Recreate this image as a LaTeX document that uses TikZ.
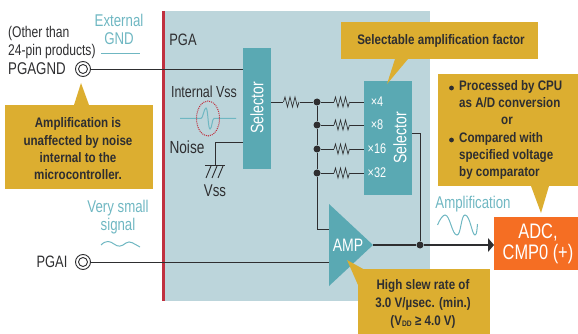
\documentclass[tikz,border=0pt]{standalone}
\usepackage{fontspec}
\setmainfont[FakeStretch=0.78]{Liberation Sans}
\newfontfamily\boldn[FakeStretch=0.84]{Liberation Sans Bold}
\definecolor{panel}{HTML}{BCD5DB}
\definecolor{teal}{HTML}{5AA9B3}
\definecolor{lteal}{HTML}{6FB7C2}
\definecolor{gold}{HTML}{DCAE30}
\definecolor{ored}{HTML}{F56E23}
\definecolor{rred}{HTML}{C0303F}
\definecolor{ink}{HTML}{2E2E30}
\tikzset{
 wire/.style={draw=ink,line width=0.9pt},
 lab/.style={text=ink,font=\fontsize{16}{18}\selectfont,inner sep=0pt,align=center},
 tlab/.style={text=lteal,font=\fontsize{17}{18}\selectfont,inner sep=0pt,align=center},
 call/.style={text=ink,font=\boldn\fontsize{13.8}{17.3}\selectfont,inner sep=0pt,align=center},
 wlab/.style={text=white,font=\fontsize{18}{20}\selectfont,inner sep=0pt},
 fac/.style={text=white,font=\fontsize{14}{16}\selectfont,inner sep=0pt},
 dot/.style={circle,fill=ink,inner sep=0pt,minimum size=7pt},
 pin/.style={circle,draw=ink,fill=white,line width=0.9pt,inner sep=0pt,minimum size=15pt},
 pinin/.style={circle,draw=ink,fill=white,line width=0.9pt,inner sep=0pt,minimum size=9pt},
 res/.style={draw=ink,line width=0.7pt,line join=miter},
}
\newcommand{\resistor}[2]{\draw[res] (#1,#2) ++(-8,0) -- ++(1.5,-5) -- ++(2.5,10) -- ++(2.5,-10) -- ++(2.5,10) -- ++(2.5,-10) -- ++(2.5,10) -- ++(1.5,-5);}
\begin{document}
\begin{tikzpicture}[x=1pt,y=-1pt]
\useasboundingbox (0,0) rectangle (578,334);
\fill[panel] (165,11) rectangle (430,301);
\draw[rred,line width=2.6pt] (163.5,11) -- (163.5,301);
% wires
\node[pin] (gndo) at (83,69) {};
\node[pinin] (gndi) at (83,69) {};
\node[pin] (aio) at (83,262) {};
\node[pinin] (aii) at (83,262) {};
\fill[teal] (243,48) rectangle (271,169);
\node[wlab,rotate=90] (sel1) at (257,108) {Selector};
\coordinate (selL1) at (243,69);
\coordinate (selL2) at (243,142);
\coordinate (selR) at (271,102);
\draw[wire] (gndo) -- (selL1);
\coordinate (gcor) at (215,142);
\coordinate (gbot) at (215,165);
\draw[wire] (selL2) -- (gcor) -- (gbot);
\draw[wire] (205,165) -- (225,165);
\draw[wire] (206,178) -- (211,166) (212,178) -- (217,166) (218,178) -- (223,166);
\node[lab,font=\fontsize{17}{18}\selectfont] (vss) at (215,191) {Vss};
\node[lab,font=\fontsize{17.5}{18}\selectfont] (noise) at (187,147) {Noise};
\node[lab] (ivss) at (204,92) {Internal Vss};
\draw[lteal,line width=1pt] (180,118.5) -- (201,118.5) .. controls (203,118.5) and (204,108) .. (206,108) .. controls (208,108) and (208,129) .. (210,129) .. controls (212,129) and (212,118.5) .. (214,118.5) -- (236,118.5);
\draw[rred,densely dotted,line width=1pt] (208,118.5) ellipse (11.5 and 17.5);
\node[lab,font=\fontsize{16.5}{18}\selectfont] (pga) at (183,40) {PGA};
% selector 2
\fill[teal] (364,81) rectangle (412,195);
\node[dot] (j1) at (317,102) {};
\node[dot] (j2) at (317,125) {};
\node[dot] (j3) at (317,149) {};
\node[dot] (j4) at (317,173) {};
\coordinate (fb) at (317,229);
\coordinate (ampin) at (329,229);
\coordinate (ampin2) at (329,262);
\draw[wire] (j1) -- (j2) -- (j3) -- (j4) -- (fb) -- (ampin);
\draw[wire] (selR) -- (j1);
\draw[wire] (j1) -- (364,102);
\draw[wire] (j2) -- (364,125);
\draw[wire] (j3) -- (364,149);
\draw[wire] (j4) -- (364,173);
\draw[wire] (aio) -- (ampin2);
\foreach \y in {102,125,149,173} {\fill[panel] (334,\y-5) rectangle (350,\y+5); \resistor{342}{\y}}
\fill[panel] (283,97) rectangle (300,107); \resistor{291.5}{102}
\node[fac] (x4) at (377,102) {×4};
\node[fac] (x8) at (377,125) {×8};
\node[fac] (x16) at (377,149) {×16};
\node[fac] (x32) at (377,173) {×32};
\node[wlab,rotate=90] (sel2) at (400,138) {Selector};
% AMP
\fill[teal] (329,204) -- (373,245) -- (329,286) -- cycle;
\node[wlab] (amp) at (348,245) {AMP};
\node[dot] (j5) at (420,245) {};
\coordinate (amo) at (373,245);
\coordinate (so) at (412,133);
\coordinate (so2) at (420,133);
\fill[ored] (494,217) rectangle (578,270);
\node[inner sep=0pt,text=white,align=center,font=\fontsize{21}{21}\selectfont] (adc) at (538,244) {ADC,\\CMP0 (+)};
\draw[wire] (so) -- (so2) -- (j5);
\draw[wire,line width=1.2pt] (amo) -- (j5) -- (488,245);
\fill[ink] (488,238) -- (494,245) -- (488,252) -- cycle;
% callouts
\fill[gold] (5,105) rectangle (153,189);
\fill[gold] (74,105) -- (81,83) -- (89,105) -- cycle;
\node[call] (c1) at (78,149) {Amplification is\\unaffected by noise\\internal to the\\microcontroller.};
\fill[gold] (341,22) rectangle (538,59);
\fill[gold] (395,59) -- (387,84) -- (408,59) -- cycle;
\node[call] (c2) at (441,41) {Selectable amplification factor};
\fill[gold] (438,74) rectangle (578,186);
\fill[gold] (531,186) -- (541,213) -- (549,186) -- cycle;
\node[call,align=left,anchor=north west] (c3) at (459,80) {Processed by CPU\\as A/D conversion\\\hspace*{42pt}or\\Compared with\\specified voltage\\by comparator};
\fill[ink] (451.5,88) circle (2.4) (451.5,140) circle (2.4);
\fill[gold] (358,269) rectangle (490,334);
\fill[gold] (347,260) -- (365,270) -- (358,285) -- cycle;
\node[call,font=\boldn\fontsize{13.8}{18}\selectfont] (c4) at (423,304) {High slew rate of\\3.0 V/µsec. (min.)\\(V\raisebox{-1pt}{\fontsize{8}{8}\selectfont DD} ≥ 4.0 V)};
% labels
\node[lab,anchor=west,font=\fontsize{15.5}{18}\selectfont] (o1) at (8,33) {(Other than};
\node[lab,anchor=west,font=\fontsize{15.5}{18}\selectfont] (o2) at (8,51) {24-pin products)};
\node[lab,anchor=west,font=\fontsize{17}{18}\selectfont] (gndl) at (8,69) {PGAGND};
\node[lab,font=\fontsize{16.5}{18}\selectfont] (ail) at (52,262) {PGAI};
\node[tlab] (ext) at (119,29) {External\\GND};
\draw[lteal,line width=1pt] (101,54) -- (140,54);
\node[tlab] (vsm) at (118,217) {Very small\\signal};
\draw[lteal,line width=1pt] (101,245) .. controls (106,240) and (110,241) .. (114,244) .. controls (118,247) and (121,247) .. (126,243) .. controls (130,240) and (134,244) .. (140,247);
\node[tlab] (ampl) at (473,204) {Amplification};
\draw[lteal,line width=1pt] (437.5,225) .. controls (440,219) and (443,215) .. (445,215) .. controls (450,215) and (452,235) .. (457,235) .. controls (461,235) and (461,215) .. (465,215) .. controls (470,215) and (472,235) .. (475,235) .. controls (477,235) and (477,228) .. (477.5,224);
\end{tikzpicture}
\end{document}
